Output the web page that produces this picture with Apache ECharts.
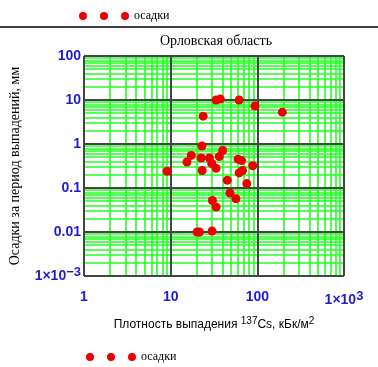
<!DOCTYPE html>
<html><head><meta charset="utf-8">
<script src="https://cdn.jsdelivr.net/npm/echarts@6/dist/echarts.min.js"></script>
<style>html,body{margin:0;padding:0;background:#fff}#c{width:378px;height:367px}</style>
</head><body><div id="c"></div>
<script>
// Data: 137Cs density (kBq/m2) vs precipitation (mm)
const density = [33.4, 37.4, 61.7, 94, 194, 23.7, 22.9, 39.8, 36.4, 17.3, 15.4, 22.5, 28, 29.8, 33.4, 23.1, 9.1, 60, 65.8, 88.6, 67.5, 61.7, 45, 75.6, 48.3, 56.6, 30.3, 33.4, 20.2, 21.5, 30];
const precip  = [10, 10.5, 10, 7.3, 5.3, 4.3, 0.9, 0.71, 0.52, 0.55, 0.39, 0.48, 0.48, 0.36, 0.28, 0.25, 0.24, 0.45, 0.42, 0.32, 0.25, 0.22, 0.15, 0.126, 0.077, 0.057, 0.052, 0.037, 0.01, 0.01, 0.0105];
const xTickLabels = ['1', '10', '100', '{a|1×10}{s|3}'];
const yTickLabels = ['{a|1×10}{s|−3}', '0.01', '0.1', '1', '10', '100'];
const xRange = [1, 1000];
const yRange = [0.001, 100];
const seriesName = 'осадки';

const points = density.map((d, i) => [d, precip[i]]);
function minors(lo, hi) {
  const out = [];
  const e0 = Math.round(Math.log10(lo)), e1 = Math.round(Math.log10(hi));
  for (let e = e0; e < e1; e++) for (let k = 2; k <= 9; k++) out.push(+(k * Math.pow(10, e)).toPrecision(6));
  return out;
}
const xMinor = minors(xRange[0], xRange[1]);
const yMinor = minors(yRange[0], yRange[1]);
const gridSegs = xMinor.map(v => ({coords: [[v, yRange[0]], [v, yRange[1]]]}))
  .concat(yMinor.map(v => ({coords: [[xRange[0], v], [xRange[1], v]]})));

const blue = '#1c1cd0';
const rich = {
  a: {fontFamily: 'Liberation Sans, Arial', fontWeight: 'bold', fontSize: 14, color: blue},
  s: {fontFamily: 'Liberation Sans, Arial', fontWeight: 'bold', fontSize: 13, color: blue, verticalAlign: 'top', padding: [0, 0, 8, 0]}
};
function lbl(v, lo, arr) {
  const e = Math.round(Math.log10(v) - Math.log10(lo));
  const s = arr[e] || '';
  return s.startsWith('{') ? s : '{a|' + s + '}';
}
const dots = 'path://M0,4a4,4 0 1,0 8,0a4,4 0 1,0 -8,0M21,4a4,4 0 1,0 8,0a4,4 0 1,0 -8,0M42,4a4,4 0 1,0 8,0a4,4 0 1,0 -8,0';
const legendText = {fontFamily: 'Liberation Serif, Times New Roman', fontSize: 12, color: '#000'};

const chart = echarts.init(document.getElementById('c'));
chart.setOption({
  animation: false,
  title: {text: 'Орловская область', left: 211, top: 29, textAlign: 'center',
    textStyle: {fontFamily: 'Liberation Serif, Times New Roman', fontWeight: 'normal', fontSize: 14, color: '#000'}},
  legend: [
    {data: [{name: seriesName, icon: dots}], left: 79, top: 10, itemWidth: 50, itemHeight: 8, itemGap: 0, padding: 0, textStyle: legendText, selectedMode: false},
    {data: [{name: seriesName, icon: dots}], left: 86, top: 351, itemWidth: 50, itemHeight: 8, itemGap: 0, padding: 0, textStyle: legendText, selectedMode: false}
  ],
  graphic: [{type: 'line', shape: {x1: 0, y1: 27, x2: 378, y2: 27}, style: {stroke: '#000', lineWidth: 1.5}}],
  grid: {left: 82, top: 56, right: 34, bottom: 91, show: true, borderColor: '#000', borderWidth: 1},
  xAxis: {type: 'log', logBase: 10, min: xRange[0], max: xRange[1], z: 1.5,
    name: 'Плотность выпадения {sup|137}Cs, кБк/м{sup|2}', nameLocation: 'middle', nameGap: 40,
    nameTextStyle: {fontFamily: 'Liberation Sans, Arial', fontSize: 12, color: '#000',
      rich: {sup: {fontFamily: 'Liberation Sans, Arial', fontSize: 10, color: '#000', verticalAlign: 'top', padding: [0, 0, 8, 0]}}},
    axisLine: {show: false}, axisTick: {show: false},
    axisLabel: {margin: 14, formatter: v => lbl(v, xRange[0], xTickLabels), rich: rich},
    splitLine: {show: true, lineStyle: {color: '#444', width: 2}}},
  yAxis: {type: 'log', logBase: 10, min: yRange[0], max: yRange[1], z: 1.5,
    name: 'Осадки за период выпадений, мм', nameLocation: 'middle', nameGap: 62,
    nameTextStyle: {fontFamily: 'Liberation Serif, Times New Roman', fontSize: 14, color: '#000'},
    axisLine: {show: false}, axisTick: {show: false},
    axisLabel: {margin: 3, formatter: v => lbl(v, yRange[0], yTickLabels), rich: rich},
    splitLine: {show: true, lineStyle: {color: '#444', width: 2}}},
  series: [
    {type: 'lines', name: '_grid', coordinateSystem: 'cartesian2d', data: gridSegs, z: 1, silent: true,
      symbol: 'none', lineStyle: {color: '#22ff22', width: 1.6, opacity: 1, type: 'solid', curveness: 0}},
    {type: 'scatter', name: seriesName, data: points, symbol: 'circle', symbolSize: 9, z: 3,
      itemStyle: {color: '#ee0000', opacity: 1}}
  ]
});
</script></body></html>
